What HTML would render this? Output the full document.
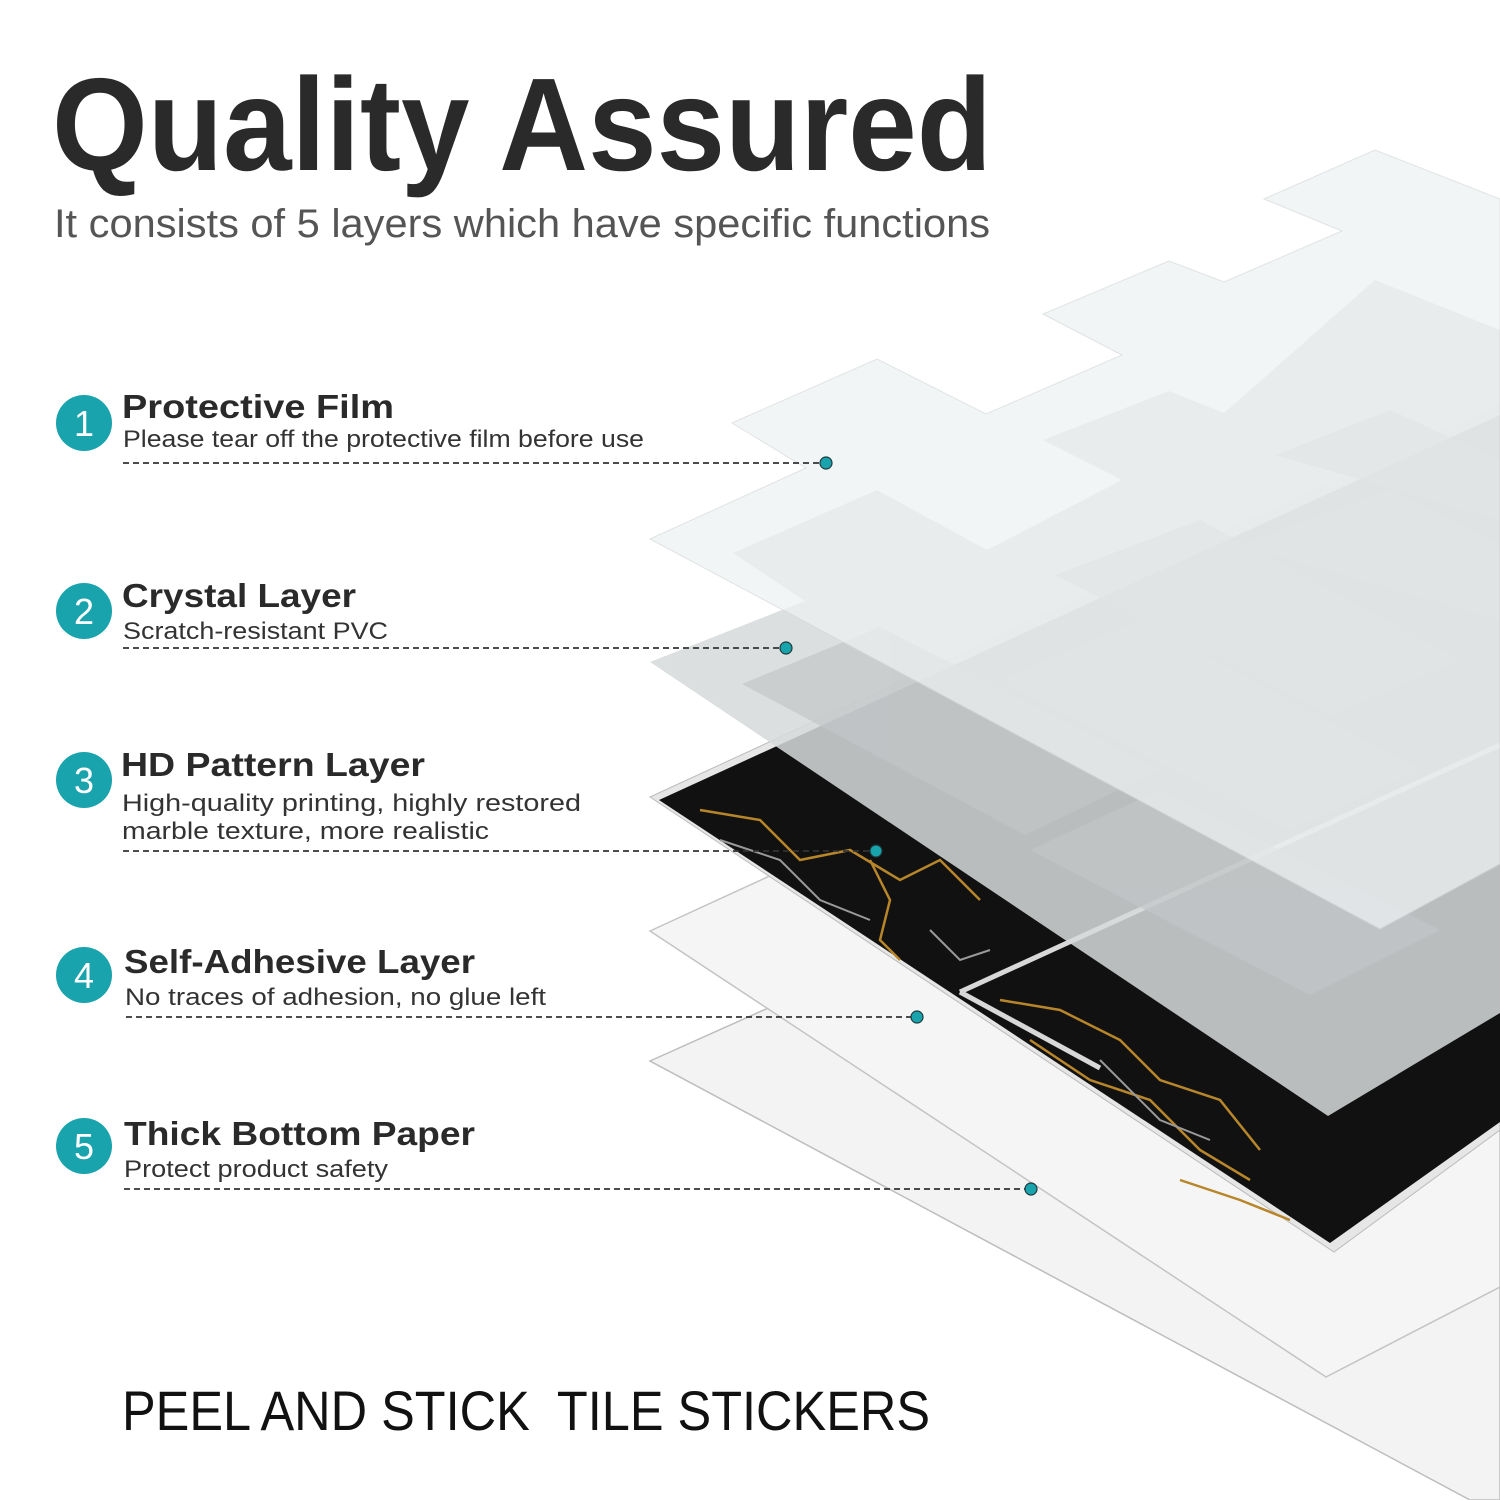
<!DOCTYPE html>
<html><head><meta charset="utf-8"><style>html,body{margin:0;padding:0;background:#fff}svg{display:block}</style></head>
<body>
<svg width="1500" height="1500" viewBox="0 0 1500 1500" xmlns="http://www.w3.org/2000/svg" font-family="Liberation Sans, sans-serif">
<rect width="1500" height="1500" fill="#fff"/>
<!-- bottom paper -->
<polygon points="650,1061 1500,680 1500,1500 1470,1500" fill="#f3f3f3" stroke="#bdbdbd" stroke-width="1.5"/>
<!-- adhesive -->
<polygon points="650,931 1500,540 1500,1287 1326,1377" fill="#f5f5f5" stroke="#c4c4c4" stroke-width="1.5"/>
<!-- black layer backing -->
<polygon points="650,797 1500,405 1500,1130 1334,1252" fill="#e6e6e6" stroke="#bbb"/>
<polygon points="659,800 1500,415 1500,1122 1330,1243" fill="#111"/>
<g stroke="#d8d8d8" stroke-width="5" fill="none">
<line x1="960" y1="992" x2="1500" y2="745"/>
<line x1="960" y1="992" x2="1100" y2="1068"/>
</g>
<g stroke="#b8862a" stroke-width="2.5" fill="none">
<polyline points="700,810 760,820 800,860 850,850 900,880 940,860 980,900"/>
<polyline points="870,860 890,900 880,940 900,960"/>
<polyline points="1000,1000 1060,1010 1120,1040 1160,1080 1220,1100 1260,1150"/>
<polyline points="1030,1040 1090,1080 1150,1100 1200,1150 1250,1180"/>
<polyline points="1180,1180 1240,1200 1290,1220"/>
</g>
<g stroke="#9a9a9a" stroke-width="2" fill="none">
<polyline points="720,840 780,860 820,900 870,920"/>
<polyline points="1100,1060 1160,1120 1210,1140"/>
<polyline points="930,930 960,960 990,950"/>
</g>
<!-- crystal -->
<polygon points="650,662 805,601 733,553 877,490 987,550 1122,480 1043,440 1169,391 1224,413 1375,280 1500,330 1500,1013 1328,1116" fill="#d6dadb" opacity="0.86"/>
<g fill="#c2c6c7" opacity="0.7">
<polygon points="742,684 880,627 1160,770 1025,835"/>
<polygon points="1000,680 1140,620 1420,770 1290,830"/>
<polygon points="1030,850 1160,790 1440,930 1310,995"/>
<polygon points="1055,575 1200,520 1460,660 1330,715"/>
<polygon points="1240,545 1390,490 1500,545 1500,620"/>
<polygon points="1275,455 1390,410 1500,460 1500,520"/>
</g>
<!-- film -->
<polygon points="650,539 806,468 732,423 877,359 986,414 1122,355 1043,314 1169,261 1224,282 1342,231 1264,199 1375,150 1500,199 1500,864 1380,929" fill="#eef2f3" opacity="0.72" stroke="#d5d9da" stroke-width="1"/>
<!-- title -->
<text x="52" y="170" font-size="132" font-weight="bold" fill="#2a2a2a" textLength="940" lengthAdjust="spacingAndGlyphs">Quality Assured</text>
<text x="54" y="237" font-size="40" fill="#555" textLength="936" lengthAdjust="spacingAndGlyphs">It consists of 5 layers which have specific functions</text>
<!-- items -->
<g fill="#19a3ad"><circle cx="84" cy="423" r="28"/><circle cx="84" cy="611" r="28"/><circle cx="84" cy="780" r="28"/><circle cx="84" cy="975" r="28"/><circle cx="84" cy="1146" r="28"/></g>
<g fill="#fff" font-size="36" text-anchor="middle"><text x="84" y="436">1</text><text x="84" y="624">2</text><text x="84" y="793">3</text><text x="84" y="988">4</text><text x="84" y="1159">5</text></g>
<g fill="#2a2a2a" font-weight="bold" font-size="33">
<text x="122" y="418" textLength="272" lengthAdjust="spacingAndGlyphs">Protective Film</text>
<text x="122" y="607" textLength="234" lengthAdjust="spacingAndGlyphs">Crystal Layer</text>
<text x="121" y="776" textLength="304" lengthAdjust="spacingAndGlyphs">HD Pattern Layer</text>
<text x="124" y="973" textLength="351" lengthAdjust="spacingAndGlyphs">Self-Adhesive Layer</text>
<text x="124" y="1145" textLength="351" lengthAdjust="spacingAndGlyphs">Thick Bottom Paper</text>
</g>
<g fill="#333" font-size="24">
<text x="123" y="447" textLength="521" lengthAdjust="spacingAndGlyphs">Please tear off the protective film before use</text>
<text x="123" y="639" textLength="265" lengthAdjust="spacingAndGlyphs">Scratch-resistant PVC</text>
<text x="122" y="811" textLength="459" lengthAdjust="spacingAndGlyphs">High-quality printing, highly restored</text>
<text x="122" y="839" textLength="367" lengthAdjust="spacingAndGlyphs">marble texture, more realistic</text>
<text x="125" y="1005" textLength="421" lengthAdjust="spacingAndGlyphs">No traces of adhesion, no glue left</text>
<text x="124" y="1177" textLength="264" lengthAdjust="spacingAndGlyphs">Protect product safety</text>
</g>
<g stroke="#333" stroke-width="1.8" stroke-dasharray="6,4">
<line x1="123" y1="463" x2="820" y2="463"/>
<line x1="123" y1="648" x2="780" y2="648"/>
<line x1="123" y1="851" x2="870" y2="851"/>
<line x1="126" y1="1017" x2="911" y2="1017"/>
<line x1="124" y1="1189" x2="1025" y2="1189"/>
</g>
<g fill="#19a3ad" stroke="#1d3a3c" stroke-width="1.2">
<circle cx="826" cy="463" r="6"/><circle cx="786" cy="648" r="6"/><circle cx="876" cy="851" r="6"/><circle cx="917" cy="1017" r="6"/><circle cx="1031" cy="1189" r="6"/>
</g>
<text x="122" y="1430" font-size="56" fill="#111" textLength="808" lengthAdjust="spacingAndGlyphs" xml:space="preserve">PEEL AND STICK  TILE STICKERS</text>
</svg>
</body></html>
